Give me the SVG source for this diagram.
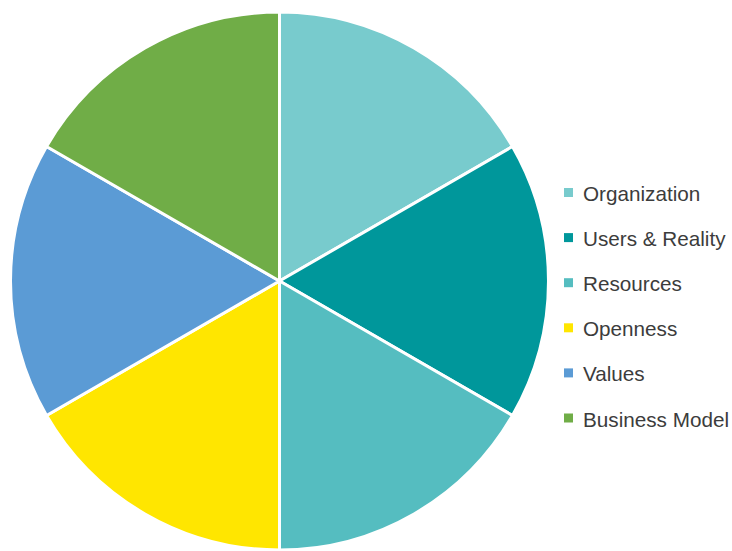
<svg xmlns="http://www.w3.org/2000/svg" width="732" height="551" viewBox="0 0 732 551">
<style>
.slice{stroke:#ffffff;stroke-width:3;stroke-linejoin:round}
.lbl{font-family:"Liberation Sans",Arial,sans-serif;font-size:20.7px;fill:#3c3c3c}
</style>
<rect width="732" height="551" fill="#ffffff"/>
<g id="pie">
<g id="slice-organization"><path class="slice" fill="#78CBCD" d="M279.5 281 L279.5 12 A269 269 0 0 1 512.46 146.5 Z"/></g>
<g id="slice-users"><path class="slice" fill="#00979B" d="M279.5 281 L512.46 146.5 A269 269 0 0 1 512.46 415.5 Z"/></g>
<g id="slice-resources"><path class="slice" fill="#55BDC0" d="M279.5 281 L512.46 415.5 A269 269 0 0 1 279.5 550 Z"/></g>
<g id="slice-openness"><path class="slice" fill="#FFE600" d="M279.5 281 L279.5 550 A269 269 0 0 1 46.54 415.5 Z"/></g>
<g id="slice-values"><path class="slice" fill="#5B9BD5" d="M279.5 281 L46.54 415.5 A269 269 0 0 1 46.54 146.5 Z"/></g>
<g id="slice-business"><path class="slice" fill="#70AD47" d="M279.5 281 L46.54 146.5 A269 269 0 0 1 279.5 12 Z"/></g>
</g>
<g id="legend">
<g id="legend-organization"><rect x="564" y="188" width="9" height="9" fill="#78CBCD"/><text class="lbl" x="583" y="201">Organization</text></g>
<g id="legend-users"><rect x="564" y="233.1" width="9" height="9" fill="#00979B"/><text class="lbl" x="583" y="246.1">Users &amp; Reality</text></g>
<g id="legend-resources"><rect x="564" y="278.2" width="9" height="9" fill="#55BDC0"/><text class="lbl" x="583" y="291.2">Resources</text></g>
<g id="legend-openness"><rect x="564" y="323.3" width="9" height="9" fill="#FFE600"/><text class="lbl" x="583" y="336.3">Openness</text></g>
<g id="legend-values"><rect x="564" y="368.4" width="9" height="9" fill="#5B9BD5"/><text class="lbl" x="583" y="381.4">Values</text></g>
<g id="legend-business"><rect x="564" y="413.5" width="9" height="9" fill="#70AD47"/><text class="lbl" x="583" y="426.5">Business Model</text></g>
</g>
<g id="connectors"></g>
</svg>
